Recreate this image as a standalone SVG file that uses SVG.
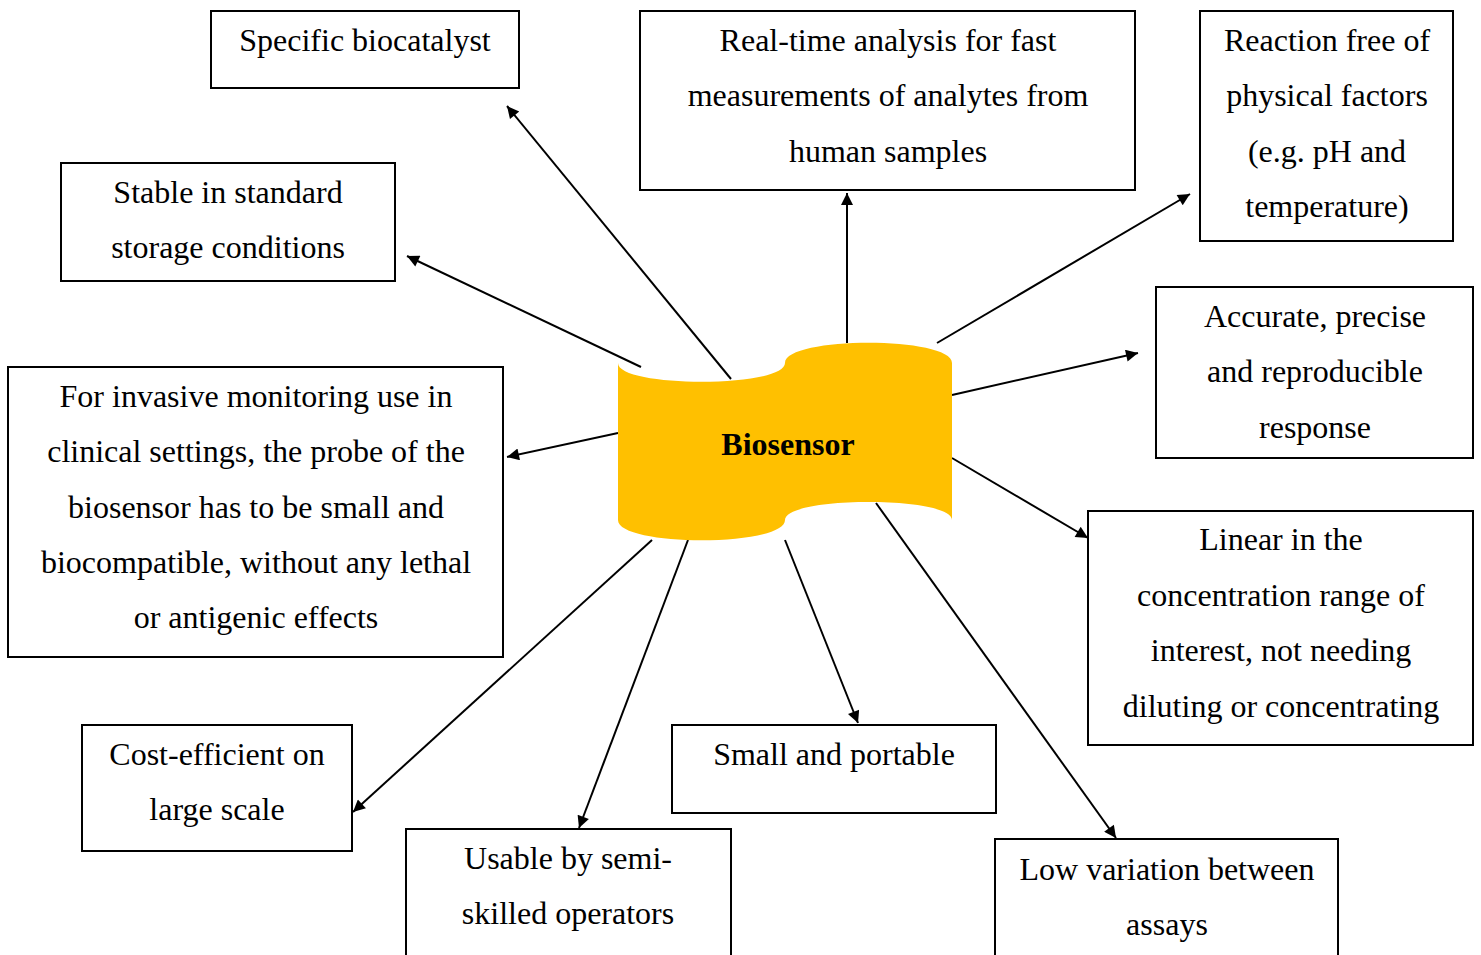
<svg xmlns="http://www.w3.org/2000/svg" width="1481" height="955" viewBox="0 0 1481 955">
<style>
.box{fill:#fff;stroke:#000;stroke-width:2}
.t{font-family:"Liberation Serif","Times New Roman",serif;font-size:32px;fill:#000;text-anchor:middle}
.c{stroke:#000;stroke-width:2;fill:none;marker-end:url(#ah)}
</style>
<defs>
<marker id="ah" viewBox="0 0 10 10" refX="10" refY="5" markerWidth="16" markerHeight="12" orient="auto" markerUnits="userSpaceOnUse"><path d="M0,0 L10,5 L0,10 z" fill="#000"/></marker>
</defs>
<rect width="1481" height="955" fill="#fff"/>
<g id="connectors">
<line class="c" x1="731" y1="379" x2="507" y2="106"/>
<line class="c" x1="847" y1="343" x2="847" y2="193"/>
<line class="c" x1="937" y1="343" x2="1190" y2="194"/>
<line class="c" x1="641" y1="367" x2="407" y2="256"/>
<line class="c" x1="952" y1="395" x2="1138" y2="353"/>
<line class="c" x1="618" y1="433" x2="507" y2="457"/>
<line class="c" x1="952" y1="458" x2="1088" y2="538"/>
<line class="c" x1="652" y1="540" x2="353" y2="812"/>
<line class="c" x1="688" y1="540" x2="579" y2="828"/>
<line class="c" x1="785" y1="540" x2="858" y2="723"/>
<line class="c" x1="876" y1="503" x2="1116" y2="838"/>
</g>
<g id="biosensor">
<path d="M618,363 C618,388 785,388 785,363 C785,336 952,336 952,363 L952,520 C952,496 785,496 785,520 C785,547 618,547 618,520 Z" fill="#FFC000"/>
<text class="t" x="788" y="455" font-weight="bold">Biosensor</text>
</g>
<g id="n-specific">
<rect class="box" x="211" y="11" width="308" height="77"/>
<text class="t" x="365" y="51">Specific biocatalyst</text>
</g>
<g id="n-realtime">
<rect class="box" x="640" y="11" width="495" height="179"/>
<text class="t" x="888" y="51">Real-time analysis for fast</text>
<text class="t" x="888" y="106">measurements of analytes from</text>
<text class="t" x="888" y="162">human samples</text>
</g>
<g id="n-reaction">
<rect class="box" x="1200" y="11" width="253" height="230"/>
<text class="t" x="1327" y="51">Reaction free of</text>
<text class="t" x="1327" y="106">physical factors</text>
<text class="t" x="1327" y="162">(e.g. pH and</text>
<text class="t" x="1327" y="217">temperature)</text>
</g>
<g id="n-stable">
<rect class="box" x="61" y="163" width="334" height="118"/>
<text class="t" x="228" y="203">Stable in standard</text>
<text class="t" x="228" y="258">storage conditions</text>
</g>
<g id="n-accurate">
<rect class="box" x="1156" y="287" width="317" height="171"/>
<text class="t" x="1315" y="327">Accurate, precise</text>
<text class="t" x="1315" y="382">and reproducible</text>
<text class="t" x="1315" y="438">response</text>
</g>
<g id="n-invasive">
<rect class="box" x="8" y="367" width="495" height="290"/>
<text class="t" x="256" y="407">For invasive monitoring use in</text>
<text class="t" x="256" y="462">clinical settings, the probe of the</text>
<text class="t" x="256" y="518">biosensor has to be small and</text>
<text class="t" x="256" y="573">biocompatible, without any lethal</text>
<text class="t" x="256" y="628">or antigenic effects</text>
</g>
<g id="n-linear">
<rect class="box" x="1088" y="511" width="385" height="234"/>
<text class="t" x="1281" y="550">Linear in the</text>
<text class="t" x="1281" y="606">concentration range of</text>
<text class="t" x="1281" y="661">interest, not needing</text>
<text class="t" x="1281" y="717">diluting or concentrating</text>
</g>
<g id="n-cost">
<rect class="box" x="82" y="725" width="270" height="126"/>
<text class="t" x="217" y="765">Cost-efficient on</text>
<text class="t" x="217" y="820">large scale</text>
</g>
<g id="n-small">
<rect class="box" x="672" y="725" width="324" height="88"/>
<text class="t" x="834" y="765">Small and portable</text>
</g>
<g id="n-usable">
<rect class="box" x="406" y="829" width="325" height="140"/>
<text class="t" x="568" y="869">Usable by semi-</text>
<text class="t" x="568" y="924">skilled operators</text>
</g>
<g id="n-low">
<rect class="box" x="995" y="839" width="343" height="130"/>
<text class="t" x="1167" y="880">Low variation between</text>
<text class="t" x="1167" y="935">assays</text>
</g>
</svg>
